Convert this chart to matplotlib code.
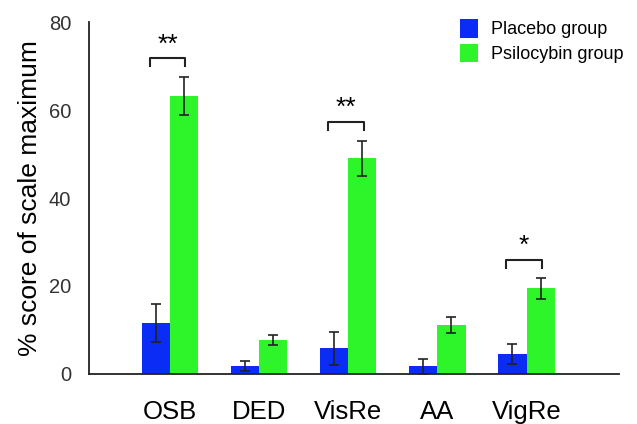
import matplotlib
matplotlib.use("Agg")
import matplotlib.pyplot as plt
import numpy as np

categories = ["OSB", "DED", "VisRe", "AA", "VigRe"]
placebo = [11.5, 1.8, 5.8, 1.7, 4.5]
placebo_err = [4.3, 1.1, 3.8, 1.6, 2.3]
psilocybin = [63.2, 7.7, 49.0, 11.1, 19.5]
psilocybin_err = [4.4, 1.2, 4.0, 1.8, 2.4]

# significance markers: (category index, bracket height, label)
sig_labels = ["**", "**", "*"]
sig_index = [0, 2, 4]
sig_height = [71.8, 57.3, 25.9]

BLUE = "#0a2cf5"
GREEN = "#2ef52a"

plt.rcParams["font.family"] = ["Liberation Sans", "DejaVu Sans"]

fig = plt.figure(figsize=(6.37, 4.24), dpi=100)
ax = fig.add_axes([0.14, 0.118, 0.832, 0.83])

x = np.arange(len(categories))
w = 0.315
err_kw = dict(ecolor="#222222", elinewidth=1.2, capsize=3.6, capthick=1.2)
ax.bar(x - w / 2, placebo, w, color=BLUE, yerr=placebo_err,
       error_kw=err_kw, label="Placebo group")
ax.bar(x + w / 2, psilocybin, w, color=GREEN, yerr=psilocybin_err,
       error_kw=err_kw, label="Psilocybin group")

for i, h, lab in zip(sig_index, sig_height, sig_labels):
    x0, x1 = i - 0.225, i + 0.17
    ax.plot([x0, x0, x1, x1], [h - 1.9, h, h, h - 1.9], color="#222222", lw=1.5)
    ax.text((x0 + x1) / 2, h + 0.4, lab, ha="center", va="bottom", fontsize=19)

ax.set_xlim(-0.91, 5.04)
ax.set_ylim(0, 80)
ax.set_yticks([0, 20, 40, 60, 80])
ax.set_xticks(x)
ax.set_xticklabels(categories, fontsize=18.5)
ax.tick_params(axis="x", length=0, pad=19)
ax.tick_params(axis="y", length=0, pad=13, labelsize=14.5, labelcolor="#333333")
ax.set_ylabel("% score of scale maximum", fontsize=19, labelpad=5)

for s in ["top", "right"]:
    ax.spines[s].set_visible(False)
for s in ["left", "bottom"]:
    ax.spines[s].set_linewidth(1.3)
    ax.spines[s].set_color("#222222")

ax.legend(loc="upper left", bbox_to_anchor=(460 / 637, 1 - 19 / 424),
          bbox_transform=fig.transFigure, frameon=False, fontsize=13,
          handlelength=1.0, handleheight=1.2, labelspacing=0.3,
          handletextpad=0.7, borderpad=0, borderaxespad=0)

fig.savefig("out.png", dpi=100)
